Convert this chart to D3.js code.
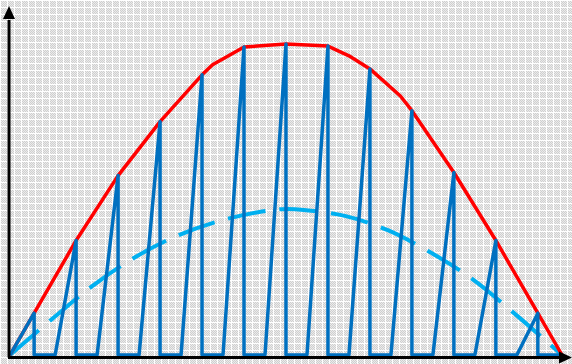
<!DOCTYPE html>
<html>
<head>
<meta charset="utf-8">
<script src="https://cdn.jsdelivr.net/npm/d3@7/dist/d3.min.js"></script>
<style>
  html, body { margin: 0; padding: 0; background: #fff; }
  svg { display: block; }
</style>
</head>
<body>
<svg id="chart" width="572" height="364"></svg>
<script>
// Continuous signal (red) vertices: time, amplitude
const signalTime  = [0, 1.15, 3.15, 5.15, 7.15, 9.15, 9.65, 11.15, 13.15, 15.15, 16.15, 17.15, 18.6, 19.15, 21.15, 23.15, 25.15, 26.3];
const signalValue = [0, 13.4, 36.7, 57.5, 74.8, 89.8, 93.0, 98.7, 99.7, 99.0, 95.9, 91.7, 83.0, 78.3, 58.5, 36.7, 13.4, 0];

// Sampled values (blue sawtooth peaks)
const sampleTime  = [1.15, 3.15, 5.15, 7.15, 9.15, 11.15, 13.15, 15.15, 17.15, 19.15, 21.15, 23.15, 25.15];
const sampleValue = [13.4, 36.7, 57.5, 74.8, 89.8, 98.7, 99.7, 99.0, 91.7, 78.3, 58.5, 36.7, 13.4];
const rampDuration = 1;

// Averaged signal (dashed light blue)
const meanTime  = [0, 2, 4, 6, 8, 10, 12, 13.15, 14, 16, 18, 20, 22, 24, 26.3];
const meanValue = [0, 11.5, 22.5, 31.5, 38.3, 43.0, 46.0, 46.8, 46.5, 44.5, 40.0, 33.0, 24.5, 13.5, 0];

const width = 572, height = 364;
const svg = d3.select("#chart");

const x = d3.scaleLinear().domain([0, 26.3]).range([10, 562]);
const y = d3.scaleLinear().domain([0, 100]).range([355, 43]);

// Grid-textured backdrop: fine dotted cells separated by white rules
const cell = 7;
const defs = svg.append("defs");
const pat = defs.append("pattern")
  .attr("id", "gridFill").attr("patternUnits", "userSpaceOnUse")
  .attr("width", cell).attr("height", cell);
pat.append("rect").attr("width", cell).attr("height", cell).attr("fill", "#ffffff");
for (let i = 1; i < cell; i++) {
  for (let j = 1; j < cell; j++) {
    pat.append("rect").attr("x", i).attr("y", j).attr("width", 1).attr("height", 1)
      .attr("fill", (i + j) % 2 === 0 ? "#cfcfcf" : "#ebebeb");
  }
}
svg.append("rect").attr("width", width).attr("height", height).attr("fill", "url(#gridFill)");

const line = d3.line().x(d => x(d[0])).y(d => y(d[1]));

// Dashed mean curve
const meanPts = meanTime.map((t, i) => [t, meanValue[i]]);
svg.append("path")
  .attr("d", d3.line().x(d => x(d[0])).y(d => y(d[1])).curve(d3.curveCatmullRom)(meanPts))
  .attr("fill", "none").attr("stroke", "#00b0f0").attr("stroke-width", 4)
  .attr("stroke-dasharray", "38 14");

// Continuous signal
const sigPts = signalTime.map((t, i) => [t, signalValue[i]]);
svg.append("path").attr("d", line(sigPts))
  .attr("fill", "none").attr("stroke", "#ff0000").attr("stroke-width", 3.5)
  .attr("stroke-linejoin", "round");

// Sawtooth: ramp up to each sample, drop back to zero, hold
const sawPts = [[0, 0]];
sampleTime.forEach((t, i) => {
  if (i > 0) sawPts.push([t - rampDuration, 0]);
  sawPts.push([t, sampleValue[i]]);
  sawPts.push([t, 0]);
});
sawPts.push([x.domain()[1] - 0.1, 0]);
svg.append("path").attr("d", line(sawPts))
  .attr("fill", "none").attr("stroke", "#0070c0").attr("stroke-width", 3.5)
  .attr("stroke-linejoin", "round");

// Axes with arrowheads
const ax = svg.append("g").attr("fill", "#000").attr("stroke", "#000");
ax.append("line").attr("x1", 9).attr("y1", 357.5).attr("x2", 9).attr("y2", 20).attr("stroke-width", 3);
ax.append("path").attr("d", "M9,6 L15,19 L3,19 Z").attr("stroke", "none");
ax.append("line").attr("x1", 8).attr("y1", 357.5).attr("x2", 560).attr("y2", 357.5).attr("stroke-width", 3);
ax.append("path").attr("d", "M572,357.5 L559,351.5 L559,363.5 Z").attr("stroke", "none");
</script>
</body>
</html>
